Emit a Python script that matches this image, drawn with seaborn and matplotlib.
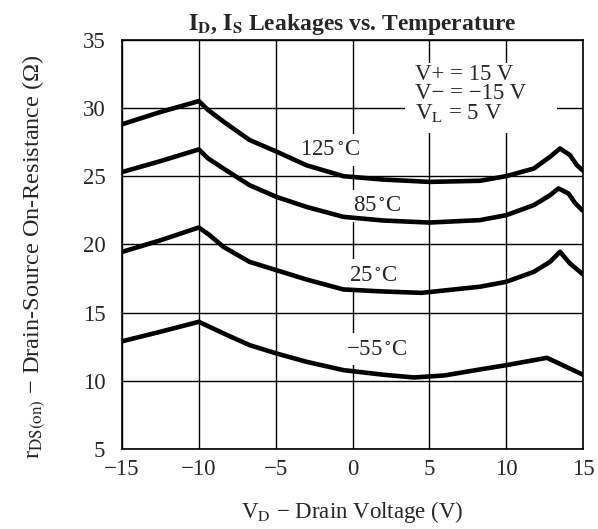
import matplotlib
matplotlib.use("Agg")
import matplotlib.pyplot as plt
from matplotlib.patches import Rectangle
import seaborn as sns
import pandas as pd

# Valores (V_D em V, r_DS(on) em ohm)
vd_125 = [-15, -12.5, -10, -9.4, -8.4, -6.7, -4.95, -3.0, -0.6, 2.0, 5.0, 8.3, 10.0, 11.8, 12.85, 13.5, 14.15, 14.6, 15]
r_125 = [28.8, 29.7, 30.5, 29.85, 29.0, 27.65, 26.8, 25.8, 25.0, 24.75, 24.58, 24.66, 25.0, 25.56, 26.42, 27.03, 26.54, 25.8, 25.4]

vd_85 = [-15, -12.5, -10, -9.4, -8.4, -6.7, -4.95, -3.0, -0.6, 2.0, 5.0, 8.3, 10.0, 11.8, 12.85, 13.4, 14.05, 14.5, 15]
r_85 = [25.3, 26.1, 26.96, 26.3, 25.56, 24.34, 23.48, 22.75, 22.02, 21.75, 21.6, 21.78, 22.14, 22.88, 23.6, 24.1, 23.73, 23.0, 22.45]

vd_25 = [-15, -12.5, -10, -9.3, -8.4, -6.7, -4.95, -3.0, -0.6, 2.0, 4.5, 8.3, 10.0, 11.8, 12.85, 13.5, 14.15, 15]
r_25 = [19.45, 20.3, 21.24, 20.68, 19.82, 18.72, 18.11, 17.43, 16.7, 16.55, 16.45, 16.9, 17.26, 17.99, 18.72, 19.46, 18.6, 17.8]

vd_m55 = [-15, -12.5, -10, -8.4, -6.7, -4.95, -3.0, -0.6, 2.0, 4.0, 6.0, 8.3, 10.0, 12.65, 15]
r_m55 = [12.9, 13.6, 14.33, 13.48, 12.62, 12.01, 11.4, 10.79, 10.45, 10.25, 10.4, 10.84, 11.15, 11.69, 10.45]

rotulos = ["125$\\,^{\\circ}$C", "85$\\,^{\\circ}$C", "25$\\,^{\\circ}$C", "−55$\\,^{\\circ}$C"]
pos_rotulos = [(-1.5, 26.95), (1.6, 22.85), (1.35, 17.75), (1.6, 12.3)]

x_ticks = [-15, -10, -5, 0, 5, 10, 15]
x_tick_labels = ["−15", "−10", "−5", "0", "5", "10", "15"]
y_ticks = [5, 10, 15, 20, 25, 30, 35]

# Montar DataFrame em formato longo
partes = []
for nome, xs, ys in [("125", vd_125, r_125), ("85", vd_85, r_85),
                     ("25", vd_25, r_25), ("-55", vd_m55, r_m55)]:
    partes.append(pd.DataFrame({"VD": xs, "R": ys, "Temp": nome}))
df = pd.concat(partes, ignore_index=True)

sns.set_style("white")
plt.rcParams["font.family"] = ["Liberation Serif", "DejaVu Serif"]
plt.rcParams["mathtext.fontset"] = "stix"

fig = plt.figure(figsize=(5.98, 5.29), dpi=100)
ax = fig.add_axes([0.204, 0.151, 0.771, 0.774])

sns.lineplot(data=df, x="VD", y="R", hue="Temp", units="Temp", estimator=None,
             palette=["black"] * 4, linewidth=3.3, legend=False, ax=ax, sort=False,
             zorder=3, solid_joinstyle="round")

ax.set_xlim(-15, 15)
ax.set_ylim(5, 35)
ax.set_xticks(x_ticks)
ax.set_xticklabels(x_tick_labels)
ax.set_yticks(y_ticks)
ax.tick_params(length=0, labelsize=16.5)
ax.tick_params(axis="y", pad=12)
ax.tick_params(axis="x", pad=7)
ax.grid(True, color="black", linewidth=1.0)
ax.set_axisbelow(True)
for s in ax.spines.values():
    s.set_color("black")
    s.set_linewidth(1.2)

# rótulos com fundo branco, abaixo das curvas
for txt, (x, y) in zip(rotulos, pos_rotulos):
    ax.text(x, y, txt, ha="center", va="center", fontsize=16.5, zorder=2.6,
            bbox=dict(facecolor="white", edgecolor="none", pad=4))

# fundo branco da caixa de condições
ax.add_patch(Rectangle((3.4, 28.15), 9.9, 5.13, facecolor="white", edgecolor="none", zorder=2.5))
ax.text(4.05, 33.2, "V+ = 15 V\nV− = −15 V\n" + r"V$_\mathrm{L}$ = 5 V",
        ha="left", va="top", fontsize=16.5, linespacing=0.88, zorder=4)

ax.set_title(r"$\mathbf{I_D}$, $\mathbf{I_S}$ Leakages vs. Temperature",
             fontsize=17, fontweight="bold", pad=7)
ax.set_xlabel(r"V$_\mathrm{D}$ − Drain Voltage (V)", fontsize=16.5, labelpad=14)
ax.set_ylabel(r"r$_\mathrm{DS(on)}$ − Drain-Source On-Resistance (Ω)", fontsize=17.5)
ax.yaxis.set_label_coords(-0.163, 0.47)

fig.savefig("out.png", dpi=100)
